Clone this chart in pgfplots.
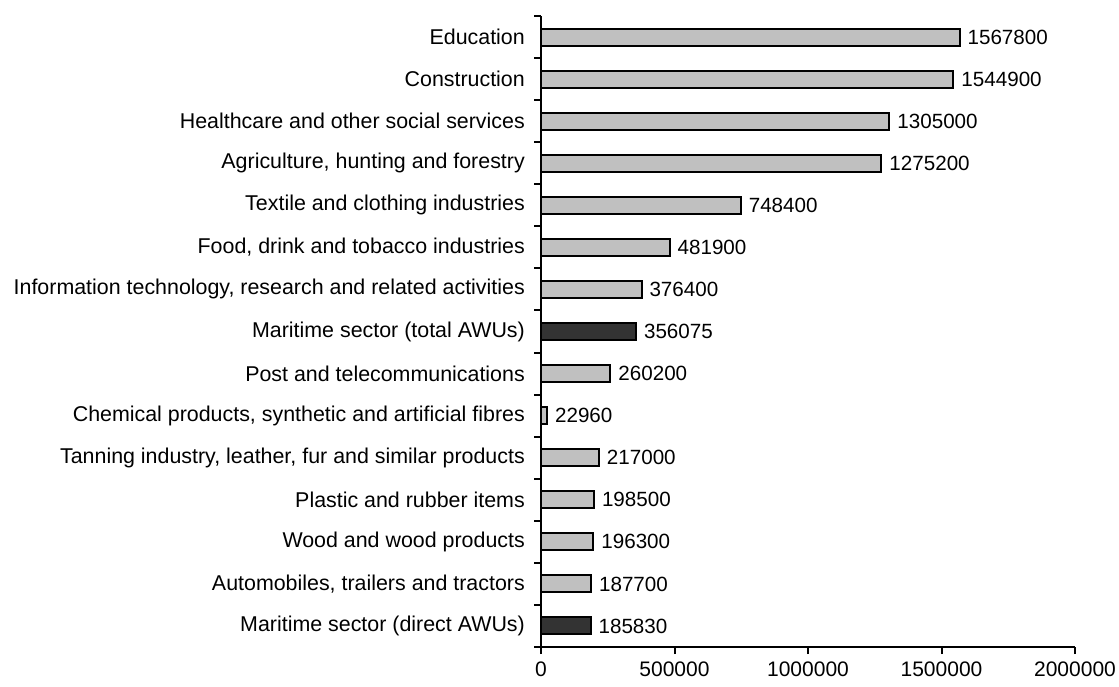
\documentclass[border=0pt]{standalone}
\usepackage{pgfplots}
\pgfplotsset{compat=1.18}
\usepackage{fontspec}
\setmainfont{Liberation Sans}
\definecolor{barlight}{HTML}{C0C0C0}
\definecolor{bardark}{HTML}{333333}
\begin{document}
\begin{tikzpicture}[font=\fontsize{21bp}{25bp}\selectfont]
\useasboundingbox (0,0) rectangle (1119bp,-687bp);
\begin{axis}[
  at={(541bp,-647bp)}, anchor=south west,
  scale only axis, width=534bp, height=631bp,
  xbar, bar width=17bp, bar shift=0pt,
  xmin=0, xmax=2000000, ymin=-0.5, ymax=14.5,
  axis lines*=left, xtick pos=bottom, ytick pos=left,
  axis line style={line width=2bp},
  tick align=outside,
  major tick length=7bp, minor tick length=7bp,
  every tick/.style={black, line width=2bp},
  xtick={0,500000,1000000,1500000,2000000},
  xticklabels={0,500000,1000000,1500000,2000000},
  xticklabel style={inner sep=0pt, yshift=-8bp},
  ytick={0,...,14},
  yticklabels={
    Maritime sector (direct AWUs),
    {Automobiles, trailers and tractors},
    Wood and wood products,
    Plastic and rubber items,
    {Tanning industry, leather, fur and similar products},
    {Chemical products, synthetic and artificial fibres},
    Post and telecommunications,
    Maritime sector (total AWUs),
    {Information technology, research and related activities},
    {Food, drink and tobacco industries},
    Textile and clothing industries,
    {Agriculture, hunting and forestry},
    Healthcare and other social services,
    Construction,
    Education},
  major y tick style={draw=none},
  minor ytick={-0.5,0.5,...,14.5},
  yticklabel style={inner sep=0pt, xshift=-9bp, font=\fontsize{21.4bp}{25bp}\selectfont},
  point meta=explicit symbolic,
  nodes near coords,
  nodes near coords style={anchor=west, inner sep=0pt, xshift=7bp, black,
    font=\fontsize{20.6bp}{25bp}\selectfont},
  clip=false,
]
% light bars: comparison sectors
\addplot[fill=barlight, draw=black, line width=2bp] coordinates {
  (1567800,14) [1567800]
  (1544900,13) [1544900]
  (1305000,12) [1305000]
  (1275200,11) [1275200]
  (748400,10)  [748400]
  (481900,9)   [481900]
  (376400,8)   [376400]
  (260200,6)   [260200]
  (22960,5)    [22960]
  (217000,4)   [217000]
  (198500,3)   [198500]
  (196300,2)   [196300]
  (187700,1)   [187700]
};
% dark bars: maritime sector
\addplot[fill=bardark, draw=black, line width=2bp] coordinates {
  (356075,7) [356075]
  (185830,0) [185830]
};
\end{axis}
\end{tikzpicture}
\end{document}
